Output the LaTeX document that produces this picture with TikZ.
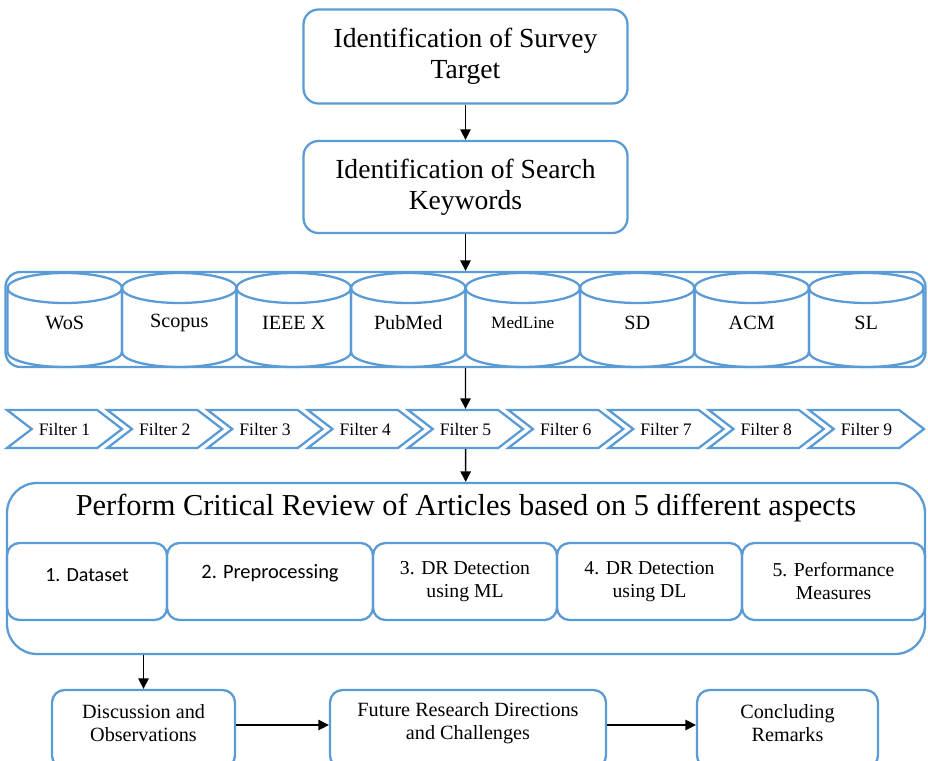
\documentclass[tikz,border=0pt]{standalone}
\usepackage{fontspec}
\setmainfont{Liberation Serif}
\newfontfamily\calfont{Carlito}
\usepackage{tikz}
\usetikzlibrary{arrows.meta,shapes.symbols,calc}
\definecolor{boxblue}{RGB}{91,155,213}

\begin{document}
\begin{tikzpicture}[box/.style={draw=boxblue,line width=1.3pt,rounded corners=0.3cm,align=center},
  inbox/.style={draw=boxblue,line width=1.3pt,rounded corners=0.25cm,align=center,minimum height=1.54cm,font=\fontsize{11.2}{13}\selectfont},
  endbox/.style={draw=boxblue,line width=1.3pt,rounded corners=0.25cm,minimum height=1.56cm},
  filt/.style={draw=boxblue,line width=1.3pt,signal,signal from=west,signal to=east,signal pointer angle=75,minimum width=2.3cm,minimum height=0.76cm,inner sep=0pt,font=\fontsize{10}{12}\selectfont},
  cyl/.style={draw=boxblue,line width=1.3pt},
  dbname/.style={font=\fontsize{11.5}{13}\selectfont},
  endtext/.style={align=center,font=\fontsize{11.5}{13}\selectfont},
  arr/.style={-{Triangle[length=6pt,width=6pt]},line width=0.8pt}]
\clip (0,0) rectangle (18.56,15.2);

\node (target) at (9.31,14.07) [box,minimum width=6.48cm,minimum height=1.88cm,font=\fontsize{15.7}{17.8}\selectfont] {Identification of Survey\\Target};
\node (keywords) at (9.31,11.46) [box,minimum width=6.48cm,minimum height=1.84cm,font=\fontsize{15.7}{17.8}\selectfont] {Identification of Search\\Keywords};

\node (dbs) at (9.31,8.81) [box,minimum width=18.40cm,minimum height=1.90cm] {};
\draw[cyl] (0.15,9.44) -- (0.15,8.16) arc (180:360:1.145 and 0.3) -- (2.44,9.44) (1.295,9.44) ellipse (1.145 and 0.3);
\draw[cyl] (2.44,9.44) -- (2.44,8.16) arc (180:360:1.145 and 0.3) -- (4.73,9.44) (3.585,9.44) ellipse (1.145 and 0.3);
\draw[cyl] (4.73,9.44) -- (4.73,8.16) arc (180:360:1.145 and 0.3) -- (7.02,9.44) (5.875,9.44) ellipse (1.145 and 0.3);
\draw[cyl] (7.02,9.44) -- (7.02,8.16) arc (180:360:1.145 and 0.3) -- (9.31,9.44) (8.165,9.44) ellipse (1.145 and 0.3);
\draw[cyl] (9.31,9.44) -- (9.31,8.16) arc (180:360:1.145 and 0.3) -- (11.60,9.44) (10.455,9.44) ellipse (1.145 and 0.3);
\draw[cyl] (11.60,9.44) -- (11.60,8.16) arc (180:360:1.145 and 0.3) -- (13.89,9.44) (12.745,9.44) ellipse (1.145 and 0.3);
\draw[cyl] (13.89,9.44) -- (13.89,8.16) arc (180:360:1.145 and 0.3) -- (16.18,9.44) (15.035,9.44) ellipse (1.145 and 0.3);
\draw[cyl] (16.18,9.44) -- (16.18,8.16) arc (180:360:1.145 and 0.3) -- (18.47,9.44) (17.325,9.44) ellipse (1.145 and 0.3);
\node (wos) at (1.295,8.74) [dbname] {WoS};
\node (scopus) at (3.585,8.74) [dbname] {Scopus};
\node (ieee) at (5.875,8.74) [dbname] {IEEE X};
\node (pubmed) at (8.165,8.74) [dbname] {PubMed};
\node (medline) at (10.455,8.74) [dbname,font=\fontsize{9.8}{12}\selectfont] {MedLine};
\node (sd) at (12.745,8.74) [dbname] {SD};
\node (acm) at (15.035,8.74) [dbname] {ACM};
\node (sl) at (17.325,8.74) [dbname] {SL};

\node (f1) at (1.29,6.62) [filt] {Filter 1};
\node (f2) at (3.295,6.62) [filt] {Filter 2};
\node (f3) at (5.30,6.62) [filt] {Filter 3};
\node (f4) at (7.305,6.62) [filt] {Filter 4};
\node (f5) at (9.31,6.62) [filt] {Filter 5};
\node (f6) at (11.315,6.62) [filt] {Filter 6};
\node (f7) at (13.32,6.62) [filt] {Filter 7};
\node (f8) at (15.325,6.62) [filt] {Filter 8};
\node (f9) at (17.33,6.62) [filt] {Filter 9};

\node (review) at (9.32,3.83) [box,rounded corners=0.6cm,minimum width=18.36cm,minimum height=3.42cm] {};
\node (revtitle) at (9.32,5.04) [font=\fontsize{17.3}{20}\selectfont] {Perform Critical Review of Articles based on 5 different aspects};
\node (dataset) at (1.74,3.57) [inbox,minimum width=3.20cm,label={[name=datasettext,yshift=0.12cm,font=\calfont\fontsize{11.4}{13}\selectfont]center:1. Dataset}] {};
\node (prep) at (5.40,3.57) [inbox,minimum width=4.12cm,label={[name=preptext,yshift=0.16cm,font=\calfont\fontsize{11.6}{13}\selectfont]center:2. Preprocessing}] {};
\node (ml) at (9.30,3.57) [inbox,minimum width=3.68cm] {3. DR Detection\\using ML};
\node (dl) at (12.99,3.57) [inbox,minimum width=3.70cm] {4. DR Detection\\using DL};
\node (perf) at (16.67,3.57) [inbox,minimum width=3.66cm] {5. Performance\\Measures};

\node (obs) at (2.87,0.62) [endbox,minimum width=3.66cm] {};
\node (future) at (9.36,0.62) [endbox,minimum width=5.52cm] {};
\node (concl) at (15.75,0.62) [endbox,minimum width=3.62cm] {};
\node (obstext) at (2.87,0.73) [endtext] {Discussion and\\Observations};
\node (futuretext) at (9.36,0.73) [endtext] {Future Research Directions\\and Challenges};
\node (concltext) at (15.75,0.73) [endtext] {Concluding\\Remarks};

\draw[arr] (target) -- (keywords);
\draw[arr] (keywords) -- (dbs);
\draw[arr] (dbs) -- (f5);
\draw[arr] (f5) -- (review);
\draw[arr] (obs.north |- review.south) -- (obs.north);
\draw[arr] ([yshift=0.08cm]obs.east) -- ([yshift=0.08cm]future.west);
\draw[arr] ([yshift=0.08cm]future.east) -- ([yshift=0.08cm]concl.west);
\end{tikzpicture}
\end{document}
